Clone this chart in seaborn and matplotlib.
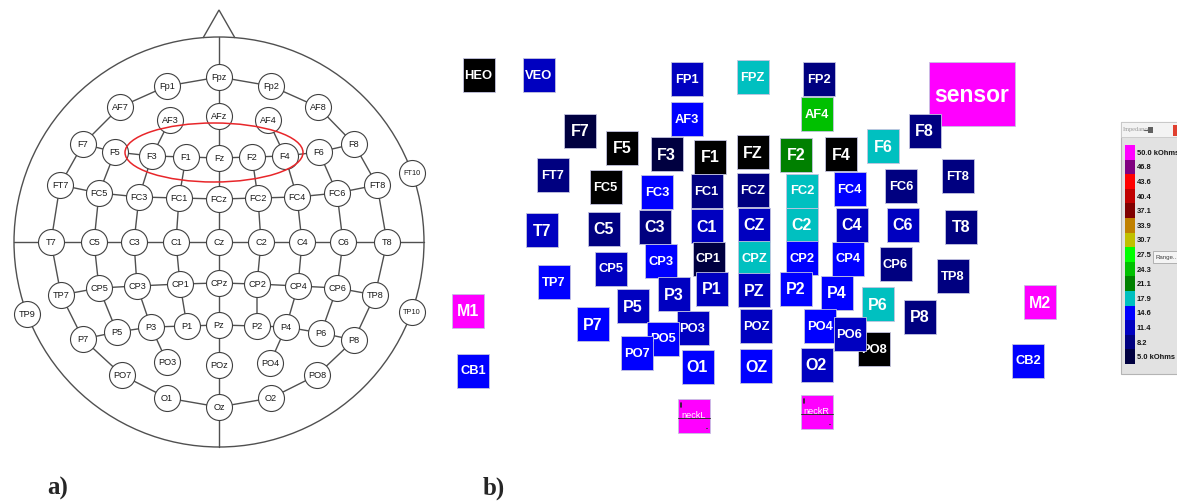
import numpy as np
import pandas as pd
import matplotlib
matplotlib.use("Agg")
import matplotlib.pyplot as plt
from matplotlib.patches import Circle, Rectangle, Ellipse, Polygon
from matplotlib.colors import ListedColormap, BoundaryNorm
import seaborn as sns

sns.set_style("white")
plt.rcParams["font.family"] = ["Liberation Sans", "DejaVu Sans"]
NARROW = ["Liberation Sans Narrow", "Liberation Sans", "DejaVu Sans"]

W, H = 1177, 501

# ---------------- a) extended 10-10 electrode layout ----------------
cap_names = ["Fp1", "Fpz", "Fp2",
             "AF7", "AF3", "AFz", "AF4", "AF8",
             "F7", "F5", "F3", "F1", "Fz", "F2", "F4", "F6", "F8", "FT10",
             "FT7", "FC5", "FC3", "FC1", "FCz", "FC2", "FC4", "FC6", "FT8",
             "T7", "C5", "C3", "C1", "Cz", "C2", "C4", "C6", "T8",
             "TP7", "CP5", "CP3", "CP1", "CPz", "CP2", "CP4", "CP6", "TP8",
             "TP9", "TP10",
             "P7", "P5", "P3", "P1", "Pz", "P2", "P4", "P6", "P8",
             "PO7", "PO3", "POz", "PO4", "PO8",
             "O1", "Oz", "O2"]
cap_x = [167, 219, 271,
         120, 170, 219, 268, 318,
         83, 115, 152, 186, 219, 252, 285, 319, 354, 412,
         60, 99, 139, 179, 219, 258, 297, 337, 377,
         51, 94, 134, 176, 219, 261, 302, 343, 387,
         61, 99, 137, 180, 219, 257, 298, 337, 375,
         27, 412,
         83, 117, 151, 187, 219, 257, 286, 321, 354,
         122, 167, 219, 270, 317,
         167, 219, 271]
cap_y = [86, 77, 86,
         107, 120, 116, 120, 107,
         144, 152, 156, 157, 158, 157, 156, 152, 144, 173,
         185, 193, 197, 198, 199, 198, 197, 193, 185,
         242, 242, 242, 242, 242, 242, 242, 242, 242,
         295, 288, 286, 284, 283, 284, 286, 288, 295,
         314, 312,
         339, 332, 327, 326, 325, 326, 327, 333, 340,
         375, 362, 365, 363, 375,
         398, 407, 398]

# electrode chains joined by grid lines
cap_chains = [
    ["Fpz", "Fp1", "AF7", "F7", "FT7", "T7", "TP7", "P7", "PO7", "O1", "Oz",
     "O2", "PO8", "P8", "TP8", "T8", "FT8", "F8", "AF8", "Fp2", "Fpz"],
    ["F7", "F5", "F3", "F1", "Fz", "F2", "F4", "F6", "F8"],
    ["FT7", "FC5", "FC3", "FC1", "FCz", "FC2", "FC4", "FC6", "FT8"],
    ["TP7", "CP5", "CP3", "CP1", "CPz", "CP2", "CP4", "CP6", "TP8"],
    ["P7", "P5", "P3", "P1", "Pz", "P2", "P4", "P6", "P8"],
    ["F5", "FC5", "C5", "CP5", "P5"],
    ["AF3", "F3", "FC3", "C3", "CP3", "P3", "PO3"],
    ["F1", "FC1", "C1", "CP1", "P1"],
    ["F2", "FC2", "C2", "CP2", "P2"],
    ["AF4", "F4", "FC4", "C4", "CP4", "P4", "PO4"],
    ["F6", "FC6", "C6", "CP6", "P6"],
]

# ---------------- b) impedance map ----------------
imp_names = ["HEO", "VEO", "FP1", "FPZ", "FP2", "AF3", "AF4", "sensor",
             "F7", "F5", "F3", "F1", "FZ", "F2", "F4", "F6", "F8",
             "FT7", "FC5", "FC3", "FC1", "FCZ", "FC2", "FC4", "FC6", "FT8",
             "T7", "C5", "C3", "C1", "CZ", "C2", "C4", "C6", "T8",
             "CP5", "CP3", "CP1", "CPZ", "CP2", "CP4", "CP6",
             "TP7", "TP8", "M1", "M2",
             "P1", "PZ", "P2", "P3", "P4", "P6", "P5", "P7", "P8",
             "PO3", "PO5", "PO7", "POZ", "PO4", "PO8", "PO6",
             "O1", "OZ", "O2", "CB1", "CB2", "neckL", "neckR"]
imp_x = [478.5, 539, 686.5, 752.5, 818.5, 686.5, 817, 972,
         580, 622, 666.5, 710, 753, 796, 841, 883, 924.5,
         552.5, 605.5, 657, 706.5, 753, 802, 849.5, 901, 958,
         542, 604, 655, 706.5, 754, 802, 851.5, 903, 961,
         611, 661, 708.5, 754, 802, 848, 895.5,
         554, 952.5, 468, 1040,
         712, 754, 796, 673.5, 837, 877.5, 633, 593, 919.5,
         692.5, 663, 637, 756, 820, 874, 849.5,
         697.5, 756, 816.5, 473, 1028, 693.5, 816.5]
imp_y = [74.5, 74.5, 79, 76.5, 79, 119, 114, 94,
         130.5, 147.5, 154, 157, 152, 155, 154, 146, 130.5,
         175, 187, 192, 191, 189.5, 190.5, 189, 185.5, 176,
         230, 229, 226.5, 226, 224.5, 224.5, 225, 225, 227,
         268.5, 261, 258.5, 257.5, 257.5, 258.5, 264,
         281.5, 276, 310.5, 302,
         289, 290, 289, 294, 293, 304, 306, 324, 316.5,
         327.5, 338.5, 353, 325.5, 325.5, 349, 334,
         367, 366, 364.5, 370.5, 360.5, 416, 412]
imp_kohm = [2.0, 12.0, 12.0, 18.5, 9.0, 15.5, 25.0, 52.0,
            6.0, 2.0, 6.0, 2.0, 2.0, 22.0, 2.0, 18.5, 9.0,
            9.0, 2.0, 15.5, 9.0, 9.0, 18.5, 15.5, 9.0, 9.0,
            12.0, 9.0, 9.0, 12.0, 12.0, 18.5, 12.0, 12.0, 9.0,
            12.0, 15.5, 6.0, 18.5, 15.5, 15.5, 9.0,
            15.5, 9.0, 52.0, 52.0,
            12.0, 12.0, 15.5, 12.0, 15.5, 18.5, 12.0, 15.5, 9.0,
            12.0, 15.5, 15.5, 12.0, 15.5, 2.0, 12.0,
            15.5, 15.5, 12.0, 15.5, 15.5, 52.0, 52.0]

# impedance colour scale (kOhm)
scale_levels = [5.0, 8.2, 11.4, 14.6, 17.9, 21.1, 24.3, 27.5,
                30.7, 33.9, 37.1, 40.4, 43.6, 46.8, 50.0]
scale_colors = ["#000040", "#000080", "#0000c0", "#0000ff", "#00c0c0",
                "#008000", "#00c000", "#00ff00", "#c0c000", "#c08000",
                "#800000", "#c00000", "#ff0000", "#800080", "#ff00ff"]
scale_labels = ["5.0 kOhms"] + [f"{v:.1f}" for v in scale_levels[1:-1]] + ["50.0 kOhms"]

cmap = ListedColormap(scale_colors)
cmap.set_under("#000000")
cmap.set_over("#ff00ff")
norm = BoundaryNorm(scale_levels + [53.2], cmap.N)

# ---------------- figure ----------------
fig = plt.figure(figsize=(W / 100, H / 100), dpi=100)
ax = fig.add_axes([0, 0, 1, 1])

# head outline, nose, midlines
cx, cy, r = 219, 242, 205
ax.add_patch(Circle((cx, cy), r, fill=False, ec="#505050", lw=1.0, zorder=1))
ax.add_patch(Polygon([(203, cy - r + 1), (219, 10), (235, cy - r + 1)],
                     closed=False, fill=False, ec="#505050", lw=1.0, zorder=1))
ax.plot([cx, cx], [cy - r, cy + r], color="#505050", lw=1.0, zorder=1)
ax.plot([cx - r, cx + r], [cy, cy], color="#505050", lw=1.0, zorder=1)

pos = dict(zip(cap_names, zip(cap_x, cap_y)))
for chain in cap_chains:
    xs = [pos[n][0] for n in chain]
    ys = [pos[n][1] for n in chain]
    ax.plot(xs, ys, color="#505050", lw=1.0, zorder=1)

cap_df = pd.DataFrame({"name": cap_names, "x": cap_x, "y": cap_y})
sns.scatterplot(data=cap_df, x="x", y="y", s=350, color="white",
                edgecolor="#404040", linewidth=0.8, ax=ax, zorder=3,
                legend=False)
for n, x, y in zip(cap_names, cap_x, cap_y):
    fs = 5.3 if len(n) == 4 else 6.6
    ax.text(x, y + 0.5, n, ha="center", va="center", fontsize=fs,
            color="#1a1a1a", zorder=4)

ax.add_patch(Ellipse((214, 152.5), 178, 59, fill=False, ec="#e8262a",
                     lw=1.1, zorder=5))

# impedance boxes, each box with its label stacked above the previous ones
for i, (n, x, y, v) in enumerate(zip(imp_names, imp_x, imp_y, imp_kohm)):
    z = 10 + 2 * i
    bw, bh = (86, 64) if n == "sensor" else (32, 34)
    ax.add_patch(Rectangle((x - bw / 2, y - bh / 2), bw, bh,
                           fc=cmap(norm(v)), ec="#c4c4e0", lw=0.6, zorder=z))
    if n == "sensor":
        fs, fw = 16.5, "bold"
    elif n.startswith("neck"):
        fs, fw = 6.6, "normal"
    elif len(n) == 2:
        fs, fw = 11.5, "bold"
    else:
        fs, fw = 9.3, "bold"
    ty = y - 1 if n.startswith("neck") else y + 1
    ax.text(x, ty, n, ha="center", va="center", fontsize=fs,
            fontweight=fw, color="white", family=NARROW, zorder=z + 1,
            clip_on=True)
    if n.startswith("neck"):
        ax.plot([x - 16, x + 16], [y + 1.5, y + 1.5], color="#303030", lw=0.7, zorder=z + 1)
        ax.plot([x - 13, x - 13], [y - 13, y - 9], color="#202020", lw=1.2, zorder=z + 1)
        ax.plot([x + 12, x + 13], [y + 12, y + 12], color="#404040", lw=0.8, zorder=z + 1)

# impedance scale panel
zp = 200
ax.add_patch(Rectangle((1121, 122), 60, 252, fc="#e2e2e2", ec="#b4b4b4",
                       lw=0.8, zorder=zp))
ax.add_patch(Rectangle((1121, 122), 60, 15, fc="#f3f3f3", ec="#c8c8c8",
                       lw=0.6, zorder=zp + 1))
ax.text(1123, 130, "Impedance", fontsize=4.6, color="#9a9a9a",
        family=["Liberation Serif", "DejaVu Serif"], va="center", zorder=zp + 2)
ax.add_patch(Rectangle((1148, 127), 5, 6, fc="#606060", ec="none", zorder=zp + 2))
ax.plot([1144, 1148], [130, 130], color="#606060", lw=0.8, zorder=zp + 2)
ax.add_patch(Rectangle((1173, 125), 6, 11, fc="#e04030", ec="none", zorder=zp + 2))
ax.add_patch(Rectangle((1153, 251), 26, 12, fc="#f4f4f4", ec="#a8a8a8",
                       lw=0.6, zorder=zp + 2))
ax.text(1155, 257.5, "Range...", fontsize=4.4, color="#404040",
        va="center", zorder=zp + 3)

ax.text(47, 495, "a)", fontsize=18, fontweight="bold",
        family=["Liberation Serif", "DejaVu Serif"], va="baseline")
ax.text(483, 495, "b)", fontsize=18, fontweight="bold",
        family=["Liberation Serif", "DejaVu Serif"], va="baseline")

ax.set_xlim(0, W)
ax.set_ylim(H, 0)
ax.axis("off")

# colour swatches of the scale
sw_left, sw_top, sw_w, sw_h = 1125, 145, 10, 219
ax_cb = fig.add_axes([sw_left / W, 1 - (sw_top + sw_h) / H, sw_w / W, sw_h / H])
scale_df = pd.DataFrame({"kOhm": scale_levels[::-1]})
sns.heatmap(scale_df, cmap=cmap, norm=norm, cbar=False, ax=ax_cb,
            xticklabels=False, yticklabels=scale_labels[::-1])
ax_cb.yaxis.tick_right()
ax_cb.tick_params(axis="y", length=0, pad=1.2, labelright=True,
                  labelleft=False)
for lab in ax_cb.get_yticklabels():
    lab.set_rotation(0)
    lab.set_fontsize(5.4)
    lab.set_fontweight("bold")
    lab.set_family(NARROW)
    lab.set_color("#151515")
ax_cb.set_ylabel("")
ax_cb.set_xlabel("")

fig.savefig("out.png", dpi=100)
